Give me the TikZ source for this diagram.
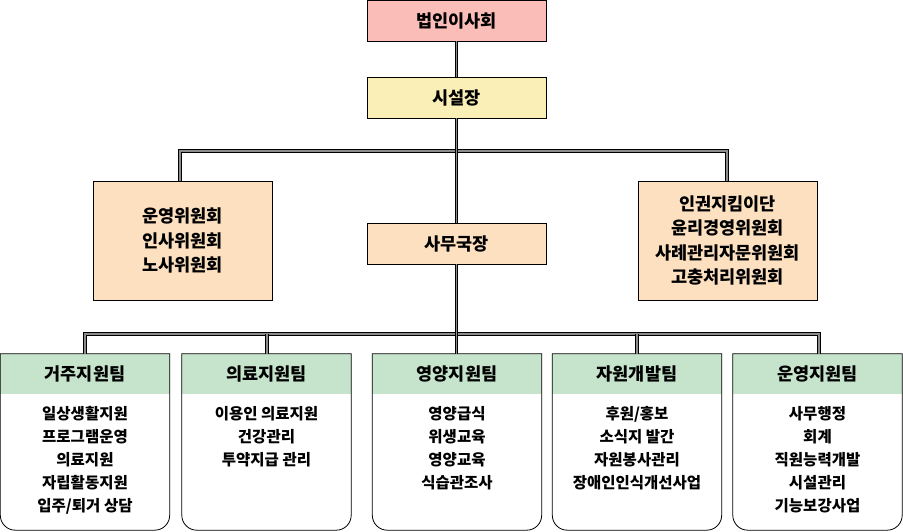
\documentclass[tikz,border=0pt]{standalone}
\usepackage{fontspec}
\setmainfont{Noto Sans CJK KR}
\definecolor{cpink}{HTML}{FBBDB7}
\definecolor{cyellow}{HTML}{FAEFB7}
\definecolor{cpeach}{HTML}{FCE0C0}
\definecolor{cgreen}{HTML}{C5E4CB}
\tikzset{
  x=1pt,y=1pt,
  topbox/.style={draw=black, line width=0.8pt, minimum width=179pt, minimum height=41pt, inner sep=0pt,
    font=\fontsize{17.5}{24}\selectfont\bfseries},
  combox/.style={draw=black, line width=0.8pt, fill=cpeach, minimum width=179pt, minimum height=119pt, inner sep=0pt,
    align=center, font=\fontsize{17.5}{24.5}\selectfont\bfseries},
  teamarea/.style={minimum width=169pt, minimum height=176pt, inner sep=0pt},
  teamhead/.style={font=\fontsize{17.5}{22}\selectfont\bfseries},
  teamitems/.style={align=center, anchor=north, font=\fontsize{15.5}{23}\selectfont\bfseries},
  conn/.style={draw=black, line width=0.9pt, double=black!45, double distance=1.6pt},
  teamline/.style={draw=black, line width=0.8pt}
}
\newcommand{\teambox}[4]{%
  \node[teamarea] (#1) at (#2,89) {};
  \fill[cgreen] (#1.north west) rectangle ([yshift=-40pt]#1.north east);
  \draw[teamline] (#1.north west) -- ([yshift=15pt]#1.south west) arc(180:270:15pt)
    -- ([xshift=-15pt]#1.south east) arc(270:360:15pt) -- (#1.north east) -- cycle;
  \node[teamhead] (#1h) at ([yshift=-20pt]#1.north) {#3};
  \node[teamitems] (#1i) at ([yshift=-49pt]#1.north) {#4};
}
\begin{document}
\begin{tikzpicture}
\useasboundingbox (0,0) rectangle (903,531);
% junction coordinates
\coordinate (h1L) at (180,380);
\coordinate (h1R) at (727,380);
\coordinate (h2) at (456,197);
% top boxes
\node[topbox, fill=cpink] (nboard) at (456.5,510.5) {법인이사회};
\node[topbox, fill=cyellow] (ndir) at (456.5,433.5) {시설장};
\node[topbox, fill=cpeach] (nsec) at (456.5,287.5) {사무국장};
\node[combox] (lc) at (182.5,290.5) {운영위원회\\인사위원회\\노사위원회};
\node[combox] (rc) at (727.5,290.5) {인권지킴이단\\윤리경영위원회\\사례관리자문위원회\\고충처리위원회};
% teams
\teambox{t1}{85}{거주지원팀}{일상생활지원\\프로그램운영\\의료지원\\자립활동지원\\입주/퇴거 상담}
\teambox{t2}{266.5}{의료지원팀}{이용인 의료지원\\건강관리\\투약지급 관리}
\teambox{t3}{457}{영양지원팀}{영양급식\\위생교육\\영양교육\\식습관조사}
\teambox{t4}{637}{자원개발팀}{후원/홍보\\소식지 발간\\자원봉사관리\\장애인인식개선사업}
\teambox{t5}{817.5}{운영지원팀}{사무행정\\회계\\직원능력개발\\시설관리\\기능보강사업}
% connectors
\draw[conn] (nboard.south) -- (ndir.north);
\draw[conn] (h1L |- lc.north) -- (h1L) -- (h1R) -- (h1R |- rc.north);
\draw[conn] (ndir.south) -- (nsec.north);
\draw[conn] (t1.north) |- (h2) -| (819,0 |- t5.north);
\draw[conn] (267,0 |- t2.north) -- (267,197);
\draw[conn] (637,0 |- t4.north) -- (637,197);
\draw[conn] (nsec.south) -- (nsec.south |- t3.north);
\end{tikzpicture}
\end{document}
